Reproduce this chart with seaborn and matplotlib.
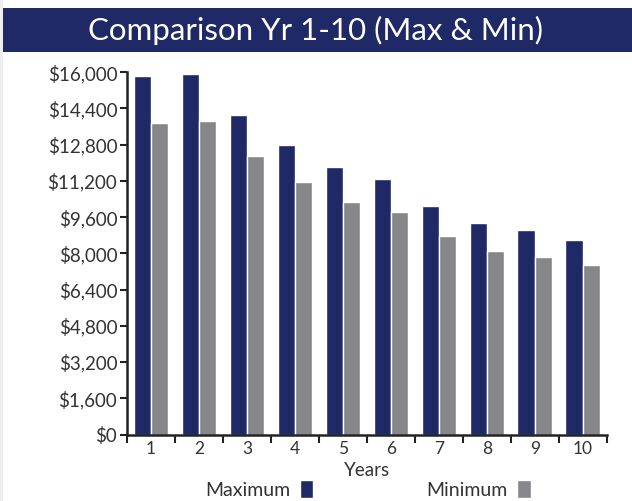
import numpy as np
import pandas as pd
import matplotlib
matplotlib.use("Agg")
import matplotlib.pyplot as plt
import seaborn as sns
from matplotlib.patches import Rectangle
from matplotlib.ticker import FuncFormatter, FixedLocator

# data
years = ["1", "2", "3", "4", "5", "6", "7", "8", "9", "10"]
maximum = [15830, 15910, 14100, 12780, 11800, 11280, 10080, 9330, 9030, 8580]
minimum = [13760, 13840, 12290, 11140, 10260, 9820, 8760, 8100, 7830, 7480]
series_names = ["Maximum", "Minimum"]
y_ticks = list(range(0, 16001, 1600))

NAVY = "#1F2966"
GREY = "#87878B"

df = pd.DataFrame({
    "Year": years * 2,
    "Value": maximum + minimum,
    "Series": [series_names[0]] * len(years) + [series_names[1]] * len(years),
})

sns.set_theme(style="white")
plt.rcParams["font.family"] = ["Lato", "DejaVu Sans"]

fig = plt.figure(figsize=(6.32, 5.01), dpi=100)
ax = fig.add_axes([0.201, 0.1327, 0.759, 0.7233])

sns.barplot(data=df, x="Year", y="Value", hue="Series", order=years,
            palette=[NAVY, GREY], width=0.72, saturation=1,
            edgecolor="white", linewidth=1.0, ax=ax)

ax.set_xlim(-0.5, len(years) - 0.5)
ax.set_ylim(0, 16000)
ax.yaxis.set_major_locator(FixedLocator(y_ticks))
ax.yaxis.set_major_formatter(FuncFormatter(lambda v, p: f"${int(v):,}"))
ax.tick_params(axis="y", which="major", direction="out", length=5, width=1.5,
               color="#222222", labelsize=13.5, labelcolor="#333333", pad=2, left=True)

# category labels without ticks, boundary ticks as minor
ax.tick_params(axis="x", which="major", length=0, labelsize=12.5, labelcolor="#333333", pad=5)
ax.set_xticks(np.arange(-0.5, len(years), 1.0), minor=True)
ax.tick_params(axis="x", which="minor", direction="out", length=6, width=1.5,
               color="#222222", bottom=True)

for side in ["top", "right"]:
    ax.spines[side].set_visible(False)
for side in ["left", "bottom"]:
    ax.spines[side].set_color("#222222")
    ax.spines[side].set_linewidth(1.8)

ax.set_ylabel("")
ax.set_xlabel("Years", fontsize=13.5, color="#333333", labelpad=3)

handles, labels = ax.get_legend_handles_labels()
ax.legend(handles, labels, loc="center", bbox_to_anchor=(0.502, -0.152),
          ncol=2, frameon=False, markerfirst=False, handlelength=0.7,
          handleheight=1.0, handletextpad=0.5, columnspacing=5.8,
          fontsize=14, labelcolor="#333333")

# title banner
fig.patches.append(Rectangle((0.005, 0.896), 0.995, 0.088, transform=fig.transFigure,
                             facecolor=NAVY, edgecolor="none", zorder=0))
fig.text(0.5, 0.94, "Comparison Yr 1-10 (Max & Min)", ha="center", va="center",
         color="white", fontsize=22.5, fontweight="normal")
fig.patches.append(Rectangle((0, 0), 0.005, 1, transform=fig.transFigure,
                             facecolor="#EEEEEE", edgecolor="none", zorder=0))

fig.savefig("out.png", dpi=100)
